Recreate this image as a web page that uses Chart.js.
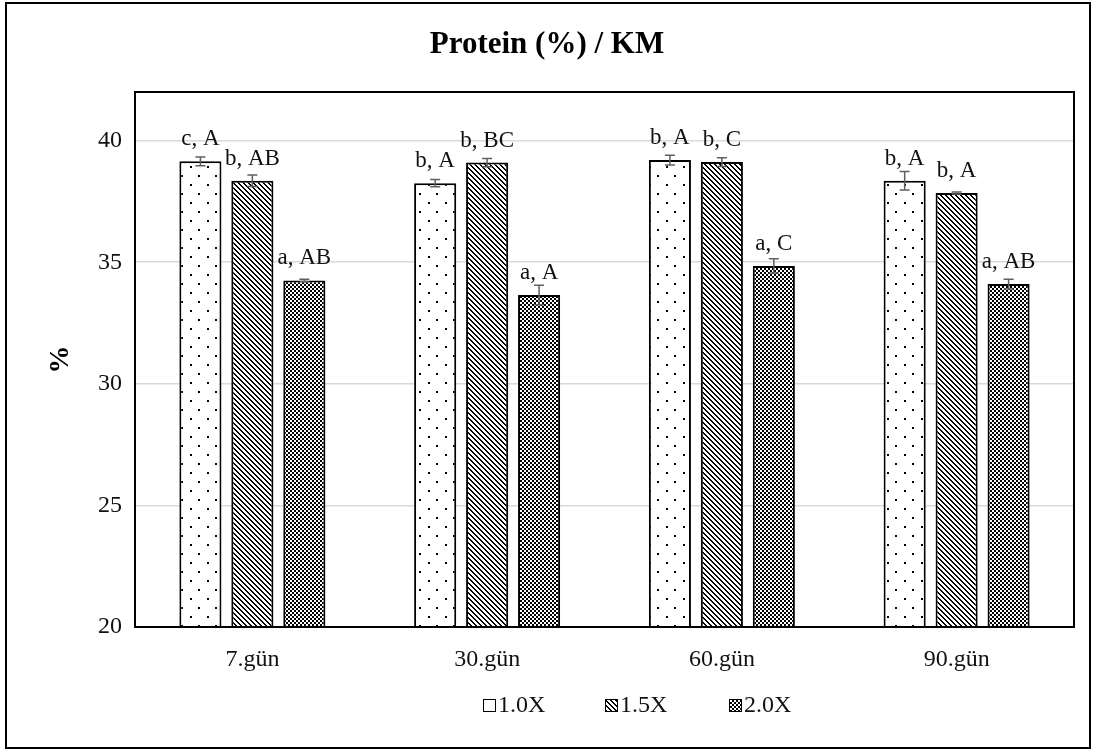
<!DOCTYPE html>
<html>
<head>
<meta charset="utf-8">
<script src="https://cdn.jsdelivr.net/npm/chart.js"></script>
<style>
  html, body { margin: 0; padding: 0; background: #fff; }
  #wrap { width: 1094px; height: 751px; }
</style>
</head>
<body>
<div id="wrap"><canvas id="proteinChart" width="1094" height="751"></canvas></div>
<script>
// data
var days = ['7.gün', '30.gün', '60.gün', '90.gün'];
var doses = ['1.0X', '1.5X', '2.0X'];

var protein10 = [39.15, 38.25, 39.2, 38.35];
var protein15 = [38.35, 39.1, 39.12, 37.85];
var protein20 = [34.25, 33.65, 34.85, 34.1];

var err10 = [0.18, 0.15, 0.2, 0.38];
var err15 = [0.24, 0.17, 0.18, 0.04];
var err20 = [0.05, 0.4, 0.29, 0.2];

var letters10 = ['c, A', 'b, A', 'b, A', 'b, A'];
var letters15 = ['b, AB', 'b, BC', 'b, C', 'b, A'];
var letters20 = ['a, AB', 'a, A', 'a, C', 'a, AB'];

var yTicks = [20, 25, 30, 35, 40];

var serif = "'Liberation Serif', 'Times New Roman', serif";

// fill patterns like the excel ones
function makeTile(w, h, draw) {
  var c = document.createElement('canvas');
  c.width = w; c.height = h;
  var g = c.getContext('2d');
  g.fillStyle = '#fff';
  g.fillRect(0, 0, w, h);
  g.fillStyle = '#000';
  draw(g);
  return document.getElementById('proteinChart').getContext('2d').createPattern(c, 'repeat');
}
var dots = makeTile(17, 18, function (g) {
  g.fillRect(3, 4, 2, 2);
  g.fillRect(11, 13, 2, 2);
});
var stripes = makeTile(5, 5, function (g) {
  for (var i = 0; i < 5; i++) {
    g.fillRect(i, i, 1, 1);
    g.fillRect((i + 1) % 5, i, 1, 1);
  }
});
var checker = makeTile(4, 4, function (g) {
  g.fillRect(0, 0, 2, 2);
  g.fillRect(2, 2, 2, 2);
});

var fills = [dots, stripes, checker];
var series = [protein10, protein15, protein20];
var errs = [err10, err15, err20];
var letters = [letters10, letters15, letters20];

var datasets = doses.map(function (d, i) {
  return {
    label: d,
    data: series[i],
    backgroundColor: fills[i],
    borderColor: '#000',
    borderWidth: 2,
    borderSkipped: false,
    barPercentage: 0.81,
    categoryPercentage: 0.664
  };
});

// background + outer frame + plot frame
var framePlugin = {
  id: 'frame',
  beforeDraw: function (chart) {
    var ctx = chart.ctx;
    ctx.save();
    ctx.fillStyle = '#fff';
    ctx.fillRect(0, 0, chart.width, chart.height);
    ctx.strokeStyle = '#000';
    ctx.lineWidth = 2;
    ctx.strokeRect(6, 3, 1084, 745);
    ctx.restore();
  },
  afterDraw: function (chart) {
    var a = chart.chartArea, ctx = chart.ctx;
    ctx.save();
    ctx.strokeStyle = '#000';
    ctx.lineWidth = 2;
    ctx.strokeRect(a.left, a.top, a.right - a.left, a.bottom - a.top);
    ctx.restore();
  }
};

// error bars and letter labels
var extrasPlugin = {
  id: 'extras',
  afterDatasetsDraw: function (chart) {
    var ctx = chart.ctx, y = chart.scales.y;
    ctx.save();
    chart.data.datasets.forEach(function (ds, i) {
      var meta = chart.getDatasetMeta(i);
      meta.data.forEach(function (bar, j) {
        var v = series[i][j], e = errs[i][j];
        var top = y.getPixelForValue(v + e), bot = y.getPixelForValue(v - e);
        ctx.strokeStyle = '#5f5f5f';
        ctx.lineWidth = 1.5;
        ctx.beginPath();
        ctx.moveTo(bar.x, top); ctx.lineTo(bar.x, bot);
        ctx.moveTo(bar.x - 5, top); ctx.lineTo(bar.x + 5, top);
        ctx.moveTo(bar.x - 5, bot); ctx.lineTo(bar.x + 5, bot);
        ctx.stroke();

        ctx.fillStyle = '#111';
        ctx.font = '23px ' + serif;
        ctx.textAlign = 'center';
        ctx.textBaseline = 'alphabetic';
        ctx.fillText(letters[i][j], bar.x, bar.y - 16);
      });
    });
    ctx.restore();
  }
};

// legend drawn below the axis
var legendPlugin = {
  id: 'patternLegend',
  afterDraw: function (chart) {
    var ctx = chart.ctx;
    var startX = [483, 605, 729];
    ctx.save();
    ctx.font = '24px ' + serif;
    ctx.textBaseline = 'middle';
    ctx.textAlign = 'left';
    doses.forEach(function (d, i) {
      var x = startX[i], cy = 705;
      ctx.fillStyle = fills[i];
      ctx.fillRect(x, cy - 6, 12, 12);
      ctx.strokeStyle = '#000';
      ctx.lineWidth = 1;
      ctx.strokeRect(x + 0.5, cy - 5.5, 12, 12);
      ctx.fillStyle = '#111';
      ctx.fillText(d, x + 15, cy + 1);
    });
    ctx.restore();
  }
};

new Chart('proteinChart', {
  type: 'bar',
  data: { labels: days, datasets: datasets },
  plugins: [framePlugin, extrasPlugin, legendPlugin],
  options: {
    responsive: false,
    animation: false,
    layout: { padding: { left: 20, right: 20, top: 0, bottom: 74 } },
    plugins: {
      legend: { display: false },
      tooltip: { enabled: false },
      title: {
        display: true,
        text: 'Protein (%) / KM',
        color: '#000',
        font: { family: serif, size: 31, weight: 'bold' },
        padding: { top: 26, bottom: 28.8 }
      }
    },
    scales: {
      x: {
        grid: { display: false },
        border: { color: '#000', width: 2 },
        ticks: { color: '#111', font: { family: serif, size: 24 }, padding: 10 },
        afterFit: function (s) { s.height = 50; }
      },
      y: {
        min: 20,
        max: 42,
        afterBuildTicks: function (s) {
          s.ticks = yTicks.map(function (v) { return { value: v }; });
        },
        grid: { color: '#d9d9d9', lineWidth: 1.5, drawTicks: false },
        border: { display: false },
        ticks: { color: '#111', font: { family: serif, size: 24 }, padding: 13 },
        title: {
          display: true,
          text: '%',
          color: '#000',
          font: { family: serif, size: 28, weight: 'bold' },
          padding: { top: 24, bottom: 0 }
        },
        afterFit: function (s) { s.width = 115; }
      }
    }
  }
});
</script>
</body>
</html>
